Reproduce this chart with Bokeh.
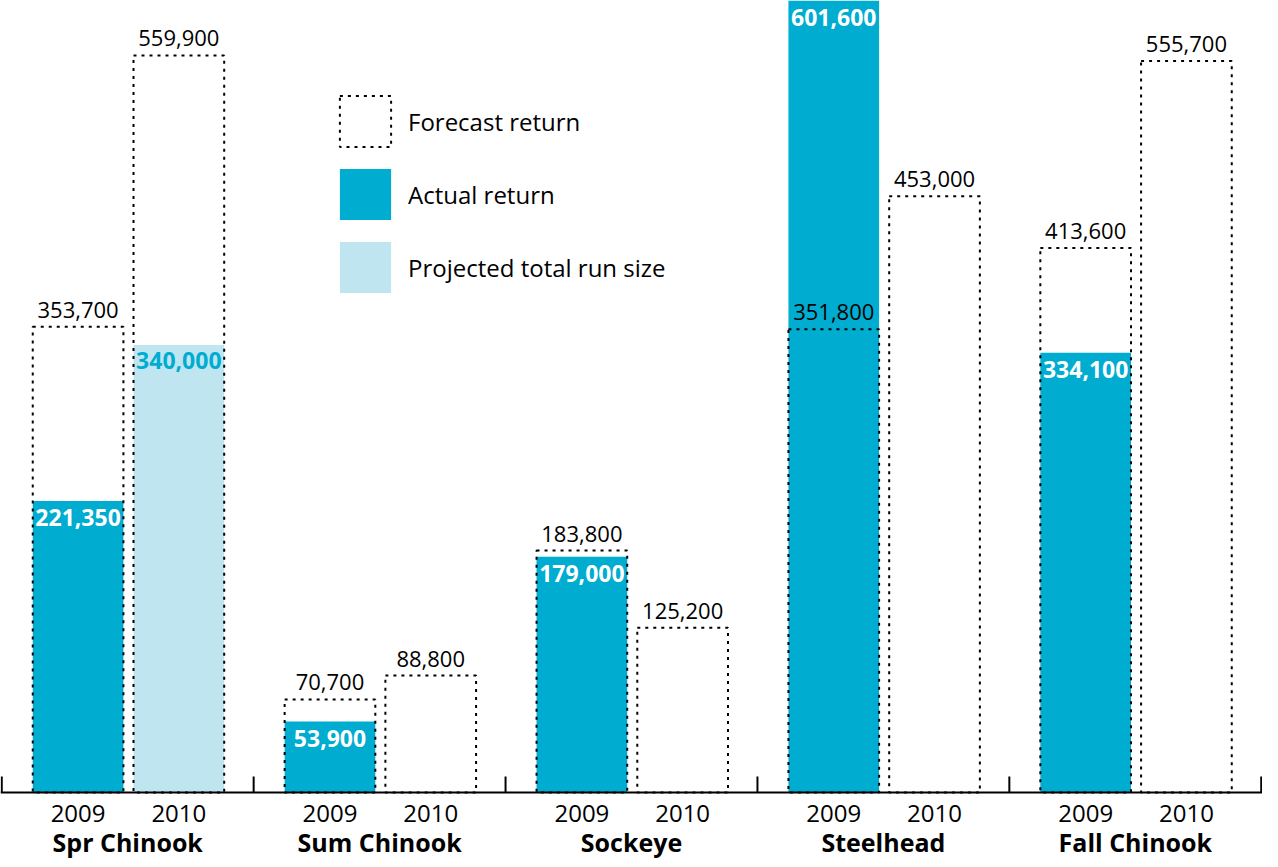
from bokeh.plotting import figure
from bokeh.models import ColumnDataSource, Range1d, Legend, LegendItem
from bokeh.core.properties import value
from bokeh.embed import file_html
from bokeh.resources import INLINE

# ---- data ----
groups = ["Spr Chinook", "Sum Chinook", "Sockeye", "Steelhead", "Fall Chinook"]
years = ["2009", "2010"]
forecast_2009 = [353700, 70700, 183800, 351800, 413600]
forecast_2010 = [559900, 88800, 125200, 453000, 555700]
actual_2009 = [221350, 53900, 179000, 601600, 334100]
projected_2010 = [340000, None, None, None, None]

# ---- layout ----
W, H = 1262, 859
BASE_PX = 792            # baseline position from top of canvas
YMAX = max(actual_2009)
ppu = BASE_PX / YMAX     # pixels per unit
ymin = -(H - BASE_PX) / ppu
off09, off10, bw = 0.303, 0.703, 0.36

BLUE = "#00acd0"
LIGHT = "#bfe6f0"
FONT = "Open Sans"

p = figure(width=W, height=H, output_backend="svg", toolbar_location=None,
           x_range=Range1d(-0.005, 5.005), y_range=Range1d(ymin, YMAX),
           min_border=0, outline_line_color=None, x_axis_type=None, y_axis_type=None)
p.grid.visible = False
p.background_fill_color = "white"

x09 = [i + off09 for i in range(len(groups))]
x10 = [i + off10 for i in range(len(groups))]

act_src = ColumnDataSource(dict(x=x09, top=actual_2009,
                                lab=[f"{v:,}" for v in actual_2009]))
proj_x = [x10[i] for i, v in enumerate(projected_2010) if v is not None]
proj_v = [v for v in projected_2010 if v is not None]
proj_src = ColumnDataSource(dict(x=proj_x, top=proj_v, lab=[f"{v:,}" for v in proj_v]))
fc_vals = forecast_2009 + forecast_2010
fc_src = ColumnDataSource(dict(x=x09 + x10, top=fc_vals, lab=[f"{v:,}" for v in fc_vals]))

r_act = p.vbar(x="x", top="top", bottom=0, width=bw, source=act_src,
               fill_color=BLUE, line_color=None)
r_proj = p.vbar(x="x", top="top", bottom=0, width=bw, source=proj_src,
                fill_color=LIGHT, line_color=None)
r_fc = p.vbar(x="x", top="top", bottom=0, width=bw, source=fc_src,
              fill_color=None, line_color="black", line_width=2, line_dash="3 5")

# axis line & ticks
p.segment(x0=[-0.005], y0=[0], x1=[5.005], y1=[0], line_color="black", line_width=2)
p.segment(x0=list(range(len(groups) + 1)), y0=[0] * (len(groups) + 1),
          x1=list(range(len(groups) + 1)), y1=[16 / ppu] * (len(groups) + 1),
          line_color="black", line_width=2)

# value labels
p.text(x="x", y="top", text="lab", source=fc_src, text_align="center",
       text_baseline="top", y_offset=-25, text_font=value(FONT),
       text_font_size="22px", text_color="black")
p.text(x="x", y="top", text="lab", source=act_src, text_align="center",
       text_baseline="top", y_offset=8, text_font=value(FONT), text_font_style="bold",
       text_font_size="23px", text_color="white")
p.text(x="x", y="top", text="lab", source=proj_src, text_align="center",
       text_baseline="top", y_offset=7, text_font=value(FONT), text_font_style="bold",
       text_font_size="23px", text_color=BLUE)

# year labels
yr_src = ColumnDataSource(dict(x=x09 + x10, y=[0] * 10,
                               t=[years[0]] * 5 + [years[1]] * 5))
p.text(x="x", y="y", text="t", source=yr_src, text_align="center",
       text_baseline="top", y_offset=12, text_font=value(FONT),
       text_font_size="24px", text_color="black")
grp_src = ColumnDataSource(dict(x=[i + 0.5 for i in range(len(groups))],
                                y=[0] * len(groups), t=groups))
p.text(x="x", y="y", text="t", source=grp_src, text_align="center",
       text_baseline="top", y_offset=32, text_font=value(FONT),
       text_font_style="bold", text_font_size="25px", text_color="black")

legend = Legend(items=[LegendItem(label="Forecast return", renderers=[r_fc]),
                       LegendItem(label="Actual return", renderers=[r_act]),
                       LegendItem(label="Projected total run size", renderers=[r_proj])],
                location=(333, 560), glyph_width=64, glyph_height=64, spacing=9,
                padding=0, margin=0, label_standoff=11,
                label_text_font=FONT, label_text_font_size="24px",
                label_text_color="black",
                background_fill_alpha=0, border_line_alpha=0)
p.add_layout(legend, "center")

open("out.html", "w").write(file_html(p, INLINE))
